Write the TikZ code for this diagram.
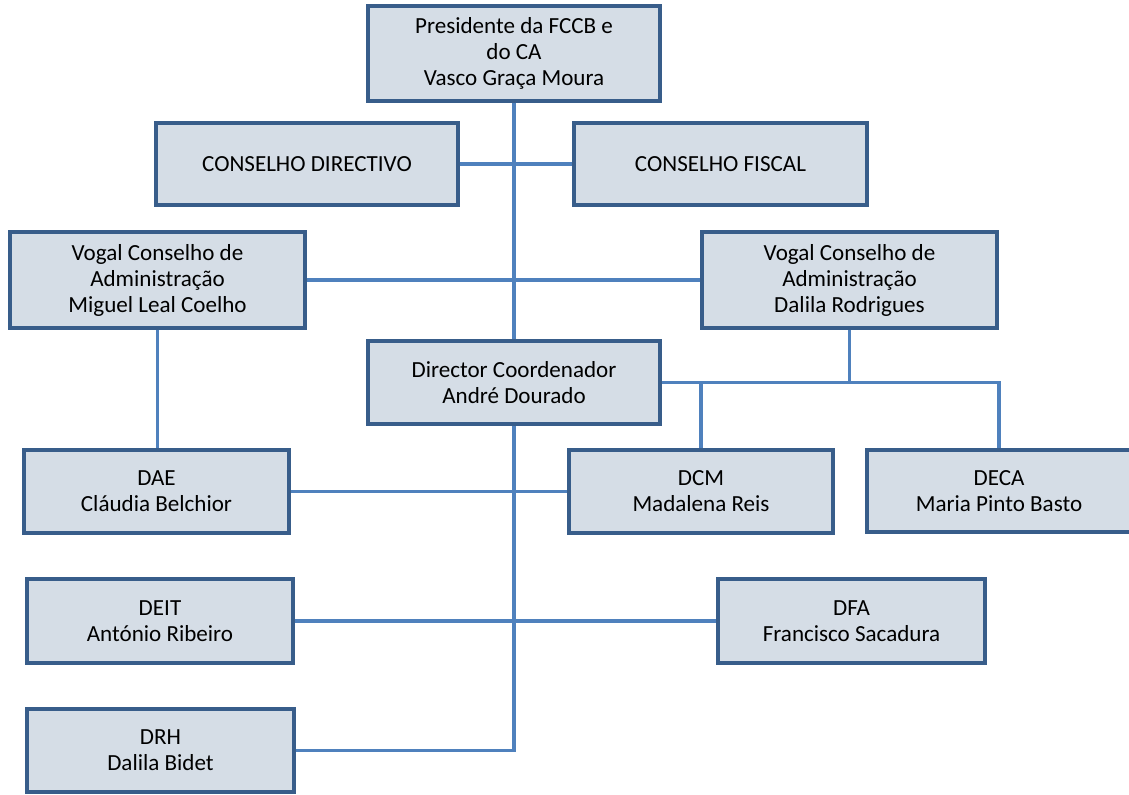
\documentclass[tikz,border=0pt]{standalone}
\usepackage{fontspec}
\setmainfont{Carlito}
\definecolor{boxfill}{RGB}{213,221,230}
\definecolor{boxline}{RGB}{56,93,138}
\definecolor{conn}{RGB}{79,129,189}
\begin{document}
\begin{tikzpicture}[x=0.75pt,y=-0.75pt,
  box/.style={draw=boxline, fill=boxfill, line width=2.3pt, inner sep=0pt, align=center,
    font=\fontsize{17.3}{19.5}\selectfont},
  sz/.style 2 args={minimum width=#1*0.75pt, minimum height=#2*0.75pt},
  link/.style={draw=conn, line width=2.3pt}]
\useasboundingbox (0,0) rectangle (1129,794);
\node[box, sz={292}{95}] (pres) at (514,53.5) {Presidente da FCCB e\\do CA\\Vasco Graça Moura};
\node[box, sz={302}{82}] (cd) at (307,164) {CONSELHO DIRECTIVO};
\node[box, sz={293}{82}] (cf) at (720.5,164) {CONSELHO FISCAL};
\node[box, sz={295}{96}] (vl) at (157.5,280) {Vogal Conselho de\\Administração\\Miguel Leal Coelho};
\node[box, sz={295}{96}] (vr) at (849.5,280) {Vogal Conselho de\\Administração\\Dalila Rodrigues};
\node[box, sz={292}{83}] (dir) at (514,382.5) {Director Coordenador\\André Dourado};
\node[box, sz={265}{83}] (dae) at (156.5,491.5) {DAE\\Cláudia Belchior};
\node[box, sz={264}{83}] (dcm) at (701,491.5) {DCM\\Madalena Reis};
\node[box, sz={264}{82}] (deca) at (999,491) {DECA\\Maria Pinto Basto};
\node[box, sz={266}{84}] (deit) at (160,621) {DEIT\\António Ribeiro};
\node[box, sz={267}{84}] (dfa) at (851.5,621) {DFA\\Francisco Sacadura};
\node[box, sz={267}{83}] (drh) at (160.5,750.5) {DRH\\Dalila Bidet};
% connectors
\draw[link] (pres.south) -- (dir.north);
\draw[link] (cd.east) -- (cf.west);
\draw[link] (vl.east) -- (vr.west);
\draw[link] (vl.south) -- (vl.south |- dae.north);
\draw[link] (dae.east) -- (dcm.west);
\draw[link] (deit.east) -- (dfa.west);
\draw[link] (dir.south) -- (dir.south |- drh.east) -- (drh.east);
\draw[link] (vr.south) -- (vr.south |- dir.east);
\draw[link] (dir.east) -- (dir.east -| deca.north) -- (deca.north);
\draw[link] (dcm.north |- dir.east) -- (dcm.north);
\end{tikzpicture}
\end{document}
